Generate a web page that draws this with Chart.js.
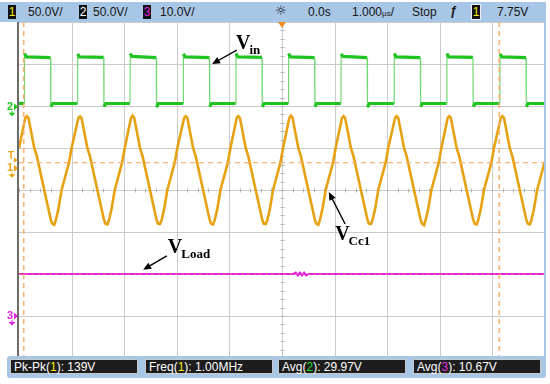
<!DOCTYPE html>
<html><head><meta charset="utf-8">
<script src="https://cdn.jsdelivr.net/npm/chart.js@4"></script>
<style>
html,body{margin:0;padding:0;background:#fff;}
#wrap{position:relative;width:550px;height:384px;overflow:hidden;font-family:"Liberation Sans",Arial,sans-serif;}
#c{position:absolute;left:0;top:0;}
.bar{position:absolute;background:#a8c6e6;}
.t{position:absolute;font-size:12px;color:#151515;white-space:nowrap;line-height:14px;}
.ch{position:absolute;background:#111;font-size:12px;line-height:14px;width:8px;height:14px;text-align:center;}
.box{position:absolute;background:#1d1d1d;border:1px solid #c8c8c8;color:#fff;font-size:12px;line-height:15px;height:15px;padding-left:3px;white-space:nowrap;box-sizing:border-box;}
</style></head>
<body>
<div id="wrap">
<canvas id="c" width="550" height="384"></canvas>
<div class="bar" style="left:0;top:2px;width:546px;height:20px;"></div>
<div id="topbar"></div>
<div class="bar" style="left:7px;top:356px;width:539px;height:22px;border-radius:3px;"></div>
<div id="bottombar"></div>
</div>
<script>
// ---------------- data (x in µs, y in divisions) ----------------
const vinT = [-5.00,
 -4.90,-4.895,-4.86,-4.40,-4.395,-4.36,
 -3.89,-3.885,-3.85,-3.39,-3.385,-3.35,
 -2.89,-2.885,-2.85,-2.39,-2.385,-2.35,
 -1.88,-1.875,-1.84,-1.38,-1.375,-1.34,
 -0.88,-0.875,-0.84,-0.38,-0.375,-0.34,
 0.12,0.125,0.16,0.62,0.625,0.66,
 1.12,1.125,1.16,1.62,1.625,1.66,
 2.13,2.135,2.17,2.63,2.635,2.67,
 3.13,3.135,3.17,3.63,3.635,3.67,
 4.14,4.145,4.18,4.64,4.645,4.68,
 5.00];
const vinV = [2.06,
 2.06,3.25,3.17,3.15,1.98,2.06,
 2.06,3.24,3.17,3.16,1.98,2.06,
 2.06,3.25,3.18,3.15,1.97,2.06,
 2.06,3.24,3.17,3.15,1.98,2.06,
 2.06,3.25,3.17,3.16,1.98,2.06,
 2.06,3.25,3.17,3.15,1.98,2.06,
 2.06,3.24,3.18,3.15,1.97,2.06,
 2.06,3.25,3.17,3.15,1.98,2.06,
 2.06,3.25,3.17,3.16,1.98,2.06,
 2.06,3.24,3.17,3.15,1.98,2.06,
 2.06];
const vccT = [-5.00,-4.88,
 -4.85,-4.82,-4.71,-4.66,-4.52,-4.40,-4.37,-4.33,-4.30,-4.25,-4.19,-4.05,-4.00,-3.87,
 -3.84,-3.81,-3.70,-3.65,-3.51,-3.39,-3.36,-3.32,-3.29,-3.24,-3.18,-3.04,-2.99,-2.87,
 -2.84,-2.81,-2.70,-2.65,-2.51,-2.39,-2.36,-2.32,-2.29,-2.24,-2.18,-2.04,-1.99,-1.86,
 -1.83,-1.80,-1.69,-1.64,-1.50,-1.38,-1.35,-1.31,-1.28,-1.23,-1.17,-1.03,-0.98,-0.86,
 -0.83,-0.80,-0.69,-0.64,-0.50,-0.38,-0.35,-0.31,-0.28,-0.23,-0.17,-0.03,0.02,0.14,
 0.17,0.20,0.31,0.36,0.50,0.62,0.65,0.69,0.72,0.77,0.83,0.97,1.02,1.14,
 1.17,1.20,1.31,1.36,1.50,1.62,1.65,1.69,1.72,1.77,1.83,1.97,2.02,2.15,
 2.18,2.21,2.32,2.37,2.51,2.63,2.66,2.70,2.73,2.78,2.84,2.98,3.03,3.15,
 3.18,3.21,3.32,3.37,3.51,3.63,3.66,3.70,3.73,3.78,3.84,3.98,4.03,4.16,
 4.19,4.22,4.33,4.38,4.52,4.64,4.67,4.71,4.74,4.79,4.85,4.99,5.00];
const vccV = [1.00,1.72,
 1.76,1.72,1.00,0.80,0.00,-0.68,-0.80,-0.83,-0.72,-0.45,0.00,0.65,1.00,1.72,
 1.75,1.71,1.00,0.80,0.00,-0.68,-0.80,-0.82,-0.72,-0.45,0.00,0.65,1.00,1.72,
 1.77,1.72,1.00,0.80,0.00,-0.68,-0.80,-0.81,-0.72,-0.45,0.00,0.65,1.00,1.72,
 1.76,1.72,1.00,0.80,0.00,-0.68,-0.80,-0.82,-0.72,-0.45,0.00,0.65,1.00,1.72,
 1.76,1.72,1.00,0.80,0.00,-0.68,-0.80,-0.81,-0.72,-0.45,0.00,0.65,1.00,1.72,
 1.77,1.72,1.00,0.80,0.00,-0.68,-0.80,-0.83,-0.72,-0.45,0.00,0.65,1.00,1.72,
 1.76,1.72,1.00,0.80,0.00,-0.68,-0.80,-0.81,-0.72,-0.45,0.00,0.65,1.00,1.72,
 1.76,1.72,1.00,0.80,0.00,-0.68,-0.80,-0.84,-0.72,-0.45,0.00,0.65,1.00,1.72,
 1.76,1.72,1.00,0.80,0.00,-0.68,-0.80,-0.82,-0.72,-0.45,0.00,0.65,1.00,1.72,
 1.76,1.72,1.00,0.80,0.00,-0.68,-0.80,-0.82,-0.72,-0.45,0.00,0.65,0.68];
const vloadT = [-5.00,0.22,0.26,0.30,0.34,0.38,0.42,0.46,0.50,5.00];
const vloadV = [-2.00,-2.00,-1.97,-2.03,-1.97,-2.03,-1.97,-2.03,-2.00,-2.00];
const cursorX = [-4.91, 4.13];
const cursorY = [0.65];
const groundMarks = [{lab:'2', d:1.98, c:'#1ec81e'},{lab:'1', d:0.52, c:'#e8a317'},{lab:'3', d:-3.0, c:'#e020e0'}];
const trigMark = {lab:'T', d:0.80, c:'#e8a317'};
const labels = [
 {main:'V', sub:'in',   t:-0.875, d:3.36, tail:[-0.86,3.33], head:[-1.33,3.00]},
 {main:'V', sub:'Cc1',  t:1.01,   d:-1.19, tail:[1.20,-0.81], head:[0.89,-0.05]},
 {main:'V', sub:'Load', t:-2.17,  d:-1.50, tail:[-2.19,-1.57], head:[-2.64,-1.90]}
];
const topItems = ['50.0V/','50.0V/','10.0V/','0.0s','1.000','Stop','7.75V'];
const bottomItems = [
 {pre:'Pk-Pk(', ch:'1', c:'#f0f000', post:'): 139V'},
 {pre:'Freq(',  ch:'1', c:'#f0f000', post:'): 1.00MHz'},
 {pre:'Avg(',   ch:'2', c:'#22dd22', post:'): 29.97V'},
 {pre:'Avg(',   ch:'3', c:'#e030e0', post:'): 10.67V'}
];

// ---------------- status bars (DOM text) ----------------
const topEl = document.getElementById('topbar');
topEl.innerHTML =
 '<div class="ch" style="left:8px;top:5px;color:#f0f000;">1</div>'+
 '<div class="t" style="left:28px;top:5px;">'+topItems[0]+'</div>'+
 '<div class="ch" style="left:79px;top:5px;color:#fff;">2</div>'+
 '<div class="t" style="left:93px;top:5px;">'+topItems[1]+'</div>'+
 '<div class="ch" style="left:143px;top:5px;color:#e020e0;">3</div>'+
 '<div class="t" style="left:160px;top:5px;">'+topItems[2]+'</div>'+
 '<div class="t" style="left:275px;top:4px;font-family:\'DejaVu Sans\';font-size:13px;">☼</div>'+
 '<div class="t" style="left:308px;top:5px;">'+topItems[3]+'</div>'+
 '<div class="t" style="left:352px;top:5px;">'+topItems[4]+'<span style="font-size:8px;">µs</span>/</div>'+
 '<div class="t" style="left:412px;top:5px;">'+topItems[5]+'</div>'+
 '<div class="t" style="left:450px;top:4px;font-weight:bold;font-style:italic;">ƒ</div>'+
 '<div class="ch" style="left:471px;top:4px;color:#f0f000;border:1px solid #eee;">1</div>'+
 '<div class="t" style="left:497px;top:5px;">'+topItems[6]+'</div>';
const botEl = document.getElementById('bottombar');
const bx = [10,145,278,413];
botEl.innerHTML = bottomItems.map((b,i)=>
 '<div class="box" style="left:'+bx[i]+'px;top:359px;width:128px;">'+b.pre+
 '<span style="color:'+b.c+'">'+b.ch+'</span>'+b.post+'</div>').join('');

// ---------------- chart ----------------
const pts = (T,V)=>T.map((t,i)=>({x:t,y:V[i]}));
const steep = c => Math.abs(c.p1.parsed.x - c.p0.parsed.x) < 0.02;

function arrow(ctx, x1,y1,x2,y2){
 const a = Math.atan2(y2-y1, x2-x1), L=8, W=3.5;
 ctx.beginPath(); ctx.moveTo(x1,y1); ctx.lineTo(x2-Math.cos(a)*L*0.7, y2-Math.sin(a)*L*0.7); ctx.stroke();
 ctx.beginPath();
 ctx.moveTo(x2,y2);
 ctx.lineTo(x2-Math.cos(a)*L+Math.sin(a)*W, y2-Math.sin(a)*L-Math.cos(a)*W);
 ctx.lineTo(x2-Math.cos(a)*L-Math.sin(a)*W, y2-Math.sin(a)*L+Math.cos(a)*W);
 ctx.closePath(); ctx.fill();
}

const scope = {
 id:'scope',
 beforeDatasetsDraw(chart){
  const {ctx, chartArea:a, scales:{x,y}} = chart;
  ctx.save();
  ctx.strokeStyle = '#cbcbcb'; ctx.lineWidth = 1;
  for(let i=-4;i<=5;i++){
   const px = Math.round(x.getPixelForValue(i))+0.5;
   ctx.beginPath(); ctx.moveTo(px,a.top); ctx.lineTo(px,a.bottom); ctx.stroke();
  }
  for(let i=-3;i<=4;i++){
   const py = Math.round(y.getPixelForValue(i))+0.5;
   ctx.beginPath(); ctx.moveTo(a.left,py); ctx.lineTo(a.right,py); ctx.stroke();
  }
  ctx.strokeStyle = '#b5b5b5';
  const cx = Math.round(x.getPixelForValue(0))+0.5, cy = Math.round(y.getPixelForValue(0))+0.5;
  for(let i=-25;i<=25;i++){
   const px = Math.round(x.getPixelForValue(i/5))+0.5;
   ctx.beginPath(); ctx.moveTo(px,cy-2); ctx.lineTo(px,cy+2); ctx.stroke();
  }
  for(let i=-20;i<=20;i++){
   const py = Math.round(y.getPixelForValue(i/5))+0.5;
   ctx.beginPath(); ctx.moveTo(cx-2,py); ctx.lineTo(cx+2,py); ctx.stroke();
  }
  ctx.restore();
 },
 afterDatasetsDraw(chart){
  const {ctx, chartArea:a, scales:{x,y}} = chart;
  ctx.save();
  ctx.strokeStyle = 'rgba(247,178,110,0.95)'; ctx.lineWidth = 1.6; ctx.setLineDash([5,4]);
  cursorX.forEach(t=>{const px=x.getPixelForValue(t); ctx.beginPath(); ctx.moveTo(px,a.top); ctx.lineTo(px,a.bottom); ctx.stroke();});
  ctx.lineWidth = 1.3;
  cursorY.forEach(d=>{const py=y.getPixelForValue(d); ctx.beginPath(); ctx.moveTo(a.left,py); ctx.lineTo(a.right,py); ctx.stroke();});
  ctx.setLineDash([3,3]); ctx.lineWidth=0.8; ctx.strokeStyle='rgba(240,170,80,0.7)';
  const pl = y.getPixelForValue(vloadV[0]);
  ctx.beginPath(); ctx.moveTo(a.left,pl); ctx.lineTo(a.right,pl); ctx.stroke();
  ctx.setLineDash([]);
  ctx.fillStyle = '#6c6c6c'; ctx.fillRect(a.left-2, a.top, 2, a.bottom-a.top);
  ctx.fillStyle = '#a8c6e6'; ctx.fillRect(a.right-1, a.top, 2, a.bottom-a.top);
  const tx = x.getPixelForValue(0);
  ctx.fillStyle = '#f08a1c';
  ctx.beginPath(); ctx.moveTo(tx-4,a.top); ctx.lineTo(tx+4,a.top); ctx.lineTo(tx,a.top+6); ctx.closePath(); ctx.fill();
  ctx.font = 'bold 11px "Liberation Sans"'; ctx.textBaseline='middle'; ctx.textAlign='left';
  groundMarks.forEach(m=>{
   const py = y.getPixelForValue(m.d);
   ctx.fillStyle = m.c;
   ctx.fillText(m.lab, 7, py);
   ctx.beginPath(); ctx.moveTo(14,py-3.5); ctx.lineTo(18,py); ctx.lineTo(14,py+3.5); ctx.closePath(); ctx.fill();
   ctx.fillRect(11.5,py+4,1,3);
   ctx.beginPath(); ctx.moveTo(8.5,py+6); ctx.lineTo(15.5,py+6); ctx.lineTo(12,py+9.5); ctx.closePath(); ctx.fill();
  });
  {
   const py = y.getPixelForValue(trigMark.d);
   ctx.fillStyle = trigMark.c; ctx.font = 'bold 10px "Liberation Sans"';
   ctx.fillText(trigMark.lab, 8, py);
   ctx.beginPath(); ctx.moveTo(14,py+1); ctx.lineTo(18,py+3.5); ctx.lineTo(14,py+6); ctx.closePath(); ctx.fill();
  }
  ctx.fillStyle = '#000'; ctx.strokeStyle = '#000'; ctx.lineWidth = 1.4;
  ctx.textBaseline = 'alphabetic';
  labels.forEach(l=>{
   const px = x.getPixelForValue(l.t), py = y.getPixelForValue(l.d);
   ctx.font = 'bold 20px "Liberation Serif"';
   ctx.fillText(l.main, px, py);
   const w = ctx.measureText(l.main).width;
   ctx.font = 'bold 13px "Liberation Serif"';
   ctx.fillText(l.sub, px+w-1, py+5);
   arrow(ctx, x.getPixelForValue(l.tail[0]), y.getPixelForValue(l.tail[1]),
              x.getPixelForValue(l.head[0]), y.getPixelForValue(l.head[1]));
  });
  ctx.restore();
 }
};

new Chart(document.getElementById('c'), {
 type:'line',
 data:{datasets:[
  {label:'Vin', data:pts(vinT,vinV), borderColor:'#20c420', borderWidth:3.2, pointRadius:0, tension:0,
   segment:{borderWidth:c=>steep(c)?1.2:3.2, borderColor:c=>steep(c)?'#72d872':'#20c420'}},
  {label:'VCc1', data:pts(vccT,vccV), borderColor:'#e6a213', borderWidth:2.6, pointRadius:0, tension:0},
  {label:'VLoad', data:pts(vloadT,vloadV), borderColor:'#e31ee3', borderWidth:2.2, pointRadius:0, tension:0}
 ]},
 options:{
  responsive:false, animation:false, devicePixelRatio:1,
  layout:{padding:{left:19,right:5,top:22,bottom:26}},
  scales:{x:{type:'linear',min:-5,max:5,display:false}, y:{type:'linear',min:-4,max:4,display:false}},
  plugins:{legend:{display:false}, tooltip:{enabled:false}},
  events:[]
 },
 plugins:[scope]
});
</script>
</body></html>
